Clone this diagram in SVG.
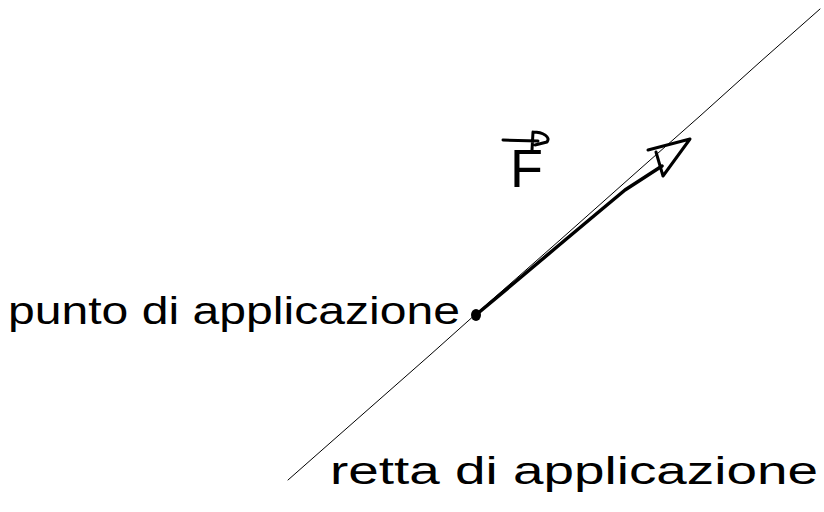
<svg xmlns="http://www.w3.org/2000/svg" width="824" height="512" viewBox="0 0 824 512">
<style>
.lbl{font-family:"Liberation Sans","DejaVu Sans",sans-serif;fill:#000;}
.ink{fill:none;stroke:#000;stroke-linecap:round;stroke-linejoin:round;}
</style>
<rect width="824" height="512" fill="#fff"/>
<g id="connectors">
<path id="retta" class="ink" stroke-width="1" d="M288 480 L 330 443 L 380 399 L 430 355 L 477 313 L 560 240 L 640 169 L 700 116 L 760 62 L 820 9"/>
<path id="forza" class="ink" stroke-width="3.5" d="M477 314 L 520 278 L 558 246 L 595 215 L 625 190 L 662 166"/>
<path id="punta" class="ink" stroke-width="3" d="M648 150 L 690 139 L 663 176 L 656 152"/>
</g>
<g id="punto">
<ellipse cx="476" cy="315" rx="5" ry="6" fill="#000"/>
</g>
<g id="label-F">
<text class="lbl" x="510" y="187" font-size="54">F</text>
<path class="ink" stroke-width="3" d="M503 140 L 538 141 M533 132 C 543 132, 551 137, 547 142 L 535 145 M533 132 L 532 150"/>
</g>
<g id="label-punto">
<text class="lbl" x="8" y="324" font-size="38" textLength="452" lengthAdjust="spacingAndGlyphs">punto di applicazione</text>
</g>
<g id="label-retta">
<text class="lbl" x="330" y="484" font-size="38" textLength="488" lengthAdjust="spacingAndGlyphs">retta di applicazione</text>
</g>
</svg>
